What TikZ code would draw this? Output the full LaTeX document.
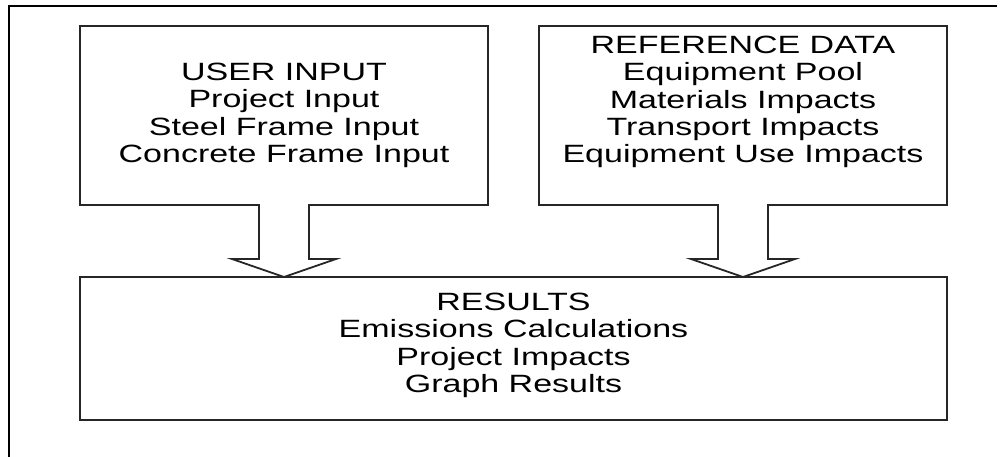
\documentclass[tikz,border=0pt]{standalone}
\usepackage{fontspec}
\setmainfont[FakeStretch=1.36]{Liberation Sans}
\usetikzlibrary{calc}

\tikzset{
  panel/.style={rectangle, inner sep=0pt, outer sep=0pt},
  outline/.style={draw=black!85, line width=1.8pt, line join=miter},
  framerule/.style={draw=black, line width=2.6pt},
  caption/.style={align=center, inner sep=0pt, anchor=north,
    font=\fontsize{25}{27.3}\selectfont},
}

\begin{document}
\begin{tikzpicture}[x=1pt, y=-1pt]
  \useasboundingbox (0,0) rectangle (1007,457);

  % page frame (top and left rules only)
  \coordinate (fbl) at (9,457);
  \coordinate (ftl) at (9,6);
  \coordinate (ftr) at (997,6);
  \draw[framerule] (fbl) -- (ftl) -- (ftr);

  % panels
  \node[panel, minimum width=408pt, minimum height=179pt] (user) at (284,115.5) {};
  \node[panel, minimum width=408pt, minimum height=179pt] (ref) at (743,115.5) {};
  \node[panel, minimum width=867pt, minimum height=143pt] (results) at (513.5,348.5) {};

  % results box
  \draw[outline] (results.north west) rectangle (results.south east);

  % input panels, each with its downward block arrow into the results
  \foreach \p in {user, ref} {
    \draw[outline]
      (\p.south west) -- (\p.north west) -- (\p.north east) -- (\p.south east)
      -- ($(\p.south)+(25,0)$) -- ($(\p.south)+(25,54)$) -- ($(\p.south)+(52,54)$)
      -- (\p.south |- results.north)
      -- ($(\p.south)+(-52,54)$) -- ($(\p.south)+(-25,54)$) -- ($(\p.south)+(-25,0)$)
      -- cycle;
  }

  % texts
  \node[caption] (userText) at (284,63)
    {USER INPUT\\Project Input\\Steel Frame Input\\Concrete Frame Input};
  \node[caption] (refText) at (743,36)
    {REFERENCE DATA\\Equipment Pool\\Materials Impacts\\Transport Impacts\\Equipment Use Impacts};
  \node[caption] (resultsText) at (513.5,293)
    {RESULTS\\Emissions Calculations\\Project Impacts\\Graph Results};
\end{tikzpicture}
\end{document}
